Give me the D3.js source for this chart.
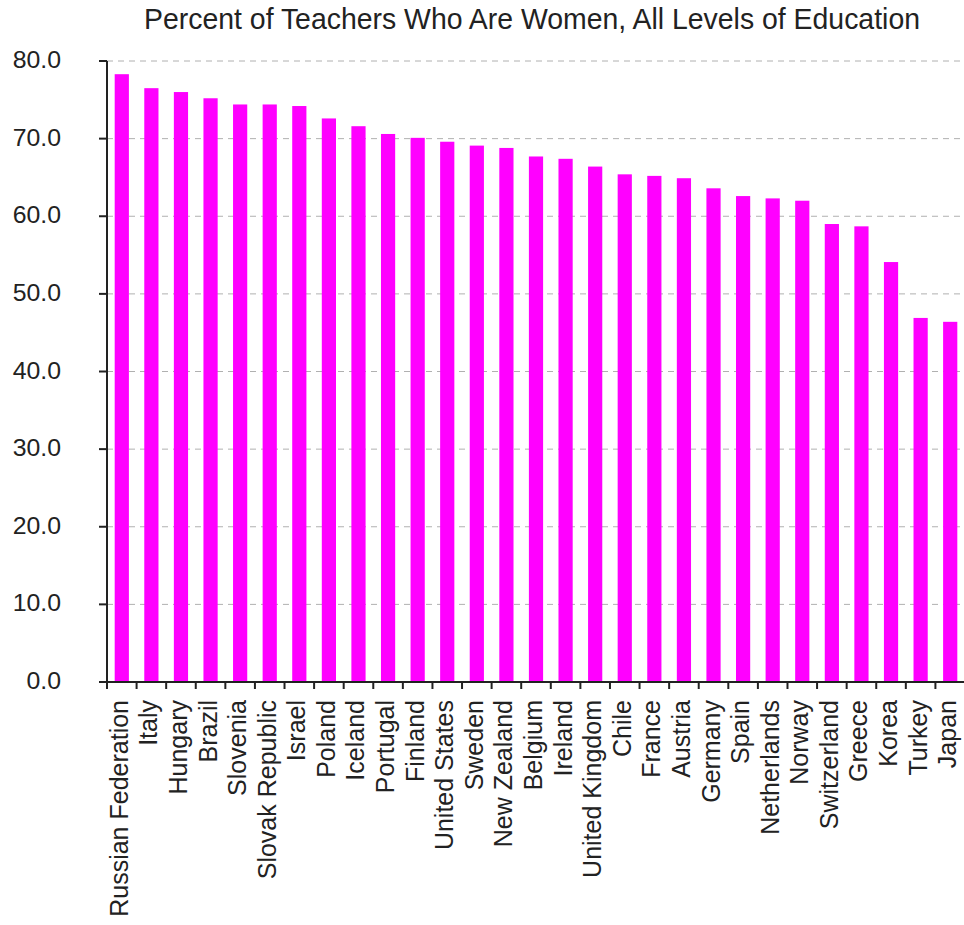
<!DOCTYPE html>
<html>
<head>
<meta charset="utf-8">
<script src="https://cdn.jsdelivr.net/npm/d3@7"></script>
<style>
  html, body { margin: 0; padding: 0; background: #fff; }
  svg { display: block; }
  text { font-family: "Liberation Sans", Arial, sans-serif; fill: #222; }
</style>
</head>
<body>
<svg id="chart" width="964" height="925"></svg>
<script>
const titleText = "Percent of Teachers Who Are Women, All Levels of Education";
const countries = ["Russian Federation","Italy","Hungary","Brazil","Slovenia","Slovak Republic","Israel","Poland","Iceland","Portugal","Finland","United States","Sweden","New Zealand","Belgium","Ireland","United Kingdom","Chile","France","Austria","Germany","Spain","Netherlands","Norway","Switzerland","Greece","Korea","Turkey","Japan"];
const values = [78.3,76.5,76.0,75.2,74.4,74.4,74.2,72.6,71.6,70.6,70.1,69.6,69.1,68.8,67.7,67.4,66.4,65.4,65.2,64.9,63.6,62.6,62.3,62.0,59.0,58.7,54.1,46.9,46.4];
const yTicks = [0,10,20,30,40,50,60,70,80];

(function () {
const svg = d3.select("#chart");
const mLeft = 107, mRight = 965, mTop = 61, mBottom = 682;

const x = d3.scaleBand().domain(countries).range([mLeft, mRight]).paddingInner(0.52).paddingOuter(0.26);
const y = d3.scaleLinear().domain([0, 80]).range([mBottom, mTop]);
const step = x.step();

// gridlines
svg.append("g").selectAll("line").data(yTicks.filter(d => d > 0)).join("line")
  .attr("x1", mLeft).attr("x2", 964)
  .attr("y1", d => y(d)).attr("y2", d => y(d))
  .attr("stroke", "#b0b0b0").attr("stroke-width", 1).attr("stroke-dasharray", "6,5");

// bars
svg.append("g").selectAll("rect").data(values).join("rect")
  .attr("x", (d, i) => x(countries[i]))
  .attr("y", d => y(d))
  .attr("width", x.bandwidth())
  .attr("height", d => mBottom - y(d))
  .attr("fill", "#ff00ff");

// y axis
const gy = svg.append("g").attr("stroke", "#222").attr("stroke-width", 2);
gy.append("line").attr("x1", mLeft).attr("x2", mLeft).attr("y1", mTop).attr("y2", mBottom);
gy.selectAll("line.tk").data(yTicks).join("line").attr("class", "tk")
  .attr("x1", mLeft - 8).attr("x2", mLeft).attr("y1", d => y(d)).attr("y2", d => y(d));

svg.append("g").selectAll("text").data(yTicks).join("text")
  .attr("transform", d => `translate(61,${y(d) + 7}) scale(1.08,1)`)
  .attr("text-anchor", "end")
  .attr("font-size", 23)
  .text(d => d.toFixed(1));

// x axis
const gx = svg.append("g").attr("stroke", "#222").attr("stroke-width", 2);
gx.append("line").attr("x1", mLeft - 8).attr("x2", 964).attr("y1", mBottom).attr("y2", mBottom);
const bounds = countries.map(c => x(c) - step * 0.26).concat([x(countries[countries.length - 1]) + x.bandwidth() + step * 0.26]);
gx.selectAll("line.tk").data(bounds).join("line").attr("class", "tk")
  .attr("x1", d => d).attr("x2", d => d).attr("y1", mBottom).attr("y2", mBottom + 7);

svg.append("g").selectAll("text").data(countries).join("text")
  .attr("transform", d => `translate(${x(d) + x.bandwidth() / 2 + 6},${700}) rotate(-90)`)
  .attr("text-anchor", "end")
  .attr("font-size", 25)
  .text(d => d);

// title
svg.append("text")
  .attr("transform", "translate(532,29) scale(0.98,1)")
  .attr("text-anchor", "middle")
  .attr("font-size", 29)
  .text(titleText);
})();
</script>
</body>
</html>
